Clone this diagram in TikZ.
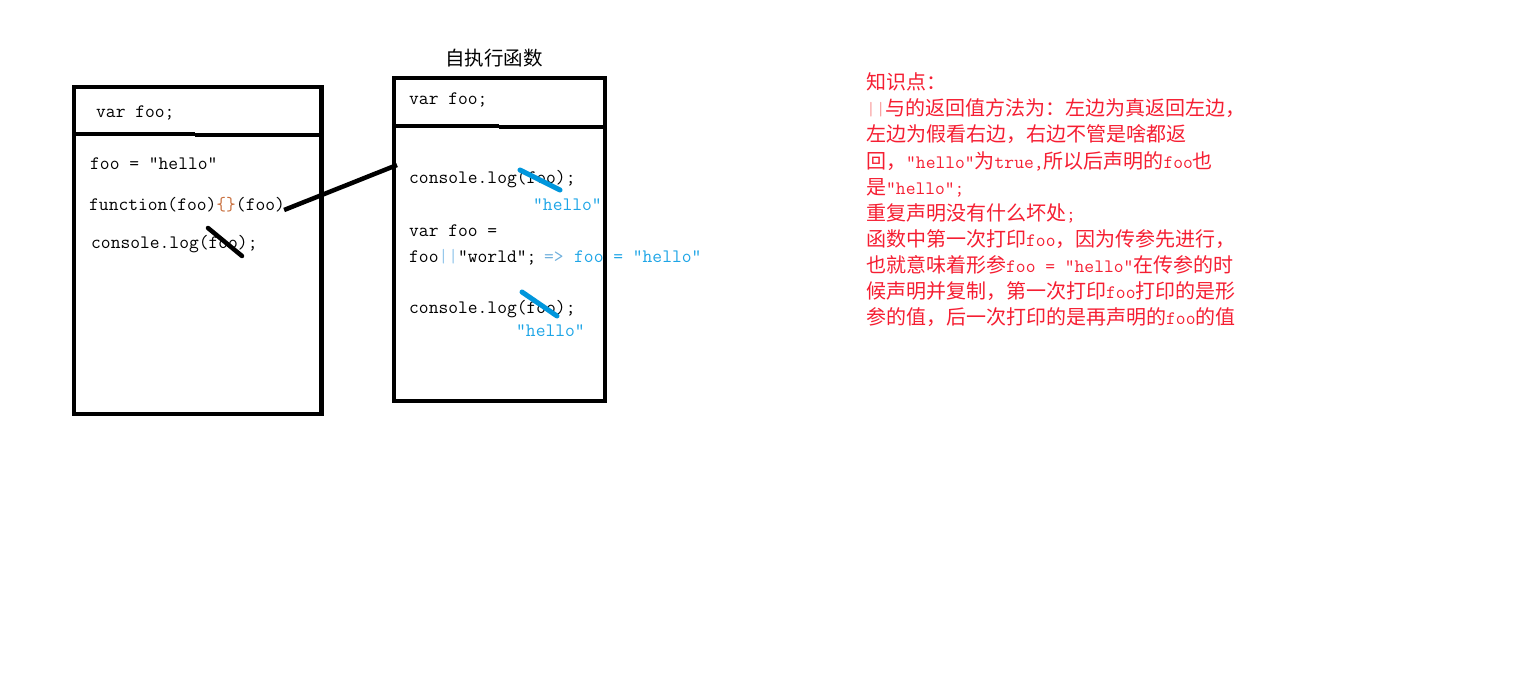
\documentclass[tikz,border=0pt]{standalone}
\usepackage{fontspec}
\newfontfamily\cjkf{Noto Sans CJK SC}
\newfontfamily\monof{Latin Modern Mono}
\definecolor{notered}{RGB}{245,30,50}
\definecolor{notepink}{RGB}{250,160,160}
\definecolor{hiblue}{RGB}{30,165,230}
\definecolor{strikeblue}{RGB}{0,150,220}
\definecolor{barblue}{RGB}{150,200,235}
\definecolor{arrowblue}{RGB}{110,175,220}
\definecolor{bracecol}{RGB}{200,110,60}
\newcommand\M[1]{{\monof\fontsize{19}{26}\selectfont #1}}
\begin{document}
\begin{tikzpicture}[x=1pt,y=-1pt,
  code/.style={font=\monof\fontsize{19}{22}\selectfont, anchor=base west, inner sep=0pt},
  note/.style={font=\cjkf\fontsize{20}{26}\selectfont, text=notered, anchor=base west, inner sep=0pt},
  box/.style={draw, line width=4.5pt, inner sep=0pt, outer sep=0pt},
  divider/.style={line width=4.5pt},
  conn/.style={line width=4.5pt},
  strikeblk/.style={line width=4.5pt, line cap=round},
  strikeblu/.style={line width=5pt, line cap=round, draw=strikeblue}]
\useasboundingbox (0,0) rectangle (1518,698);

% left box
\node[box, minimum width=247.5pt, minimum height=327pt] (lbox) at (197.75,250.5) {};
\draw[divider] (72,134) -- (195,134);
\draw[divider] (195,135) -- (321.5,135);
\node[code] (lv) at (96,118) {var foo;};
\node[code] (lh) at (90,169) {foo = "hello"};
\node[code] (fn) at (89,210) {function(foo)\textcolor{bracecol}{\{\}}(foo)};
\node[code] (lc) at (91,248) {console.log(foo);};
\draw[strikeblk] (208,228) -- (242,256);

% right box
\node[font=\cjkf\fontsize{19.5}{24}\selectfont, anchor=base west, inner sep=0pt] (title) at (445,66) {自执行函数};
\node[box, minimum width=211pt, minimum height=323pt] (rbox) at (499.5,239.5) {};
\draw[divider] (394,126) -- (499,126);
\draw[divider] (499,127) -- (605,127);
\node[code] (rv) at (409,105) {var foo;};
\node[code] (rc1) at (409,183) {console.log(foo);};
\draw[strikeblu] (520,170) -- (560,190);
\node[code, text=hiblue] (rh1) at (533,210) {"hello"};
\node[code] (rvf) at (409,236) {var foo =};
\node[code] (ror) at (409,262) {foo\textcolor{barblue}{||}"world";};
\node[code, text=arrowblue] (rarr) at (544,262) {=>};
\node[code, text=hiblue] (rres) at (574,262) {foo = "hello"};
\node[code] (rc2) at (409,313) {console.log(foo);};
\draw[strikeblu] (522,292) -- (557,316);
\node[code, text=hiblue] (rh2) at (516,336) {"hello"};

% connector
\coordinate (rin) at (397,165);
\path (fn.base east) ++(-1,0) coordinate (fout);
\draw[conn] (fout) -- (rin);

% notes
\node[note] (n1) at (866,90) {知识点：};
\node[note] (n2) at (866,116) {\M{\textcolor{notepink}{||}}与的返回值方法为：左边为真返回左边，};
\node[note] (n3) at (866,142) {左边为假看右边，右边不管是啥都返};
\node[note] (n4) at (866,168) {回，\M{"hello"}为\M{true,}所以后声明的\M{foo}也};
\node[note] (n5) at (866,194) {是\M{"hello";}};
\node[note] (n6) at (866,220) {重复声明没有什么坏处\M{;}};
\node[note] (n7) at (866,246) {函数中第一次打印\M{foo}，因为传参先进行，};
\node[note] (n8) at (866,272) {也就意味着形参\M{foo = "hello"}在传参的时};
\node[note] (n9) at (866,298) {候声明并复制，第一次打印\M{foo}打印的是形};
\node[note] (n10) at (866,324) {参的值，后一次打印的是再声明的\M{foo}的值};
\end{tikzpicture}
\end{document}
